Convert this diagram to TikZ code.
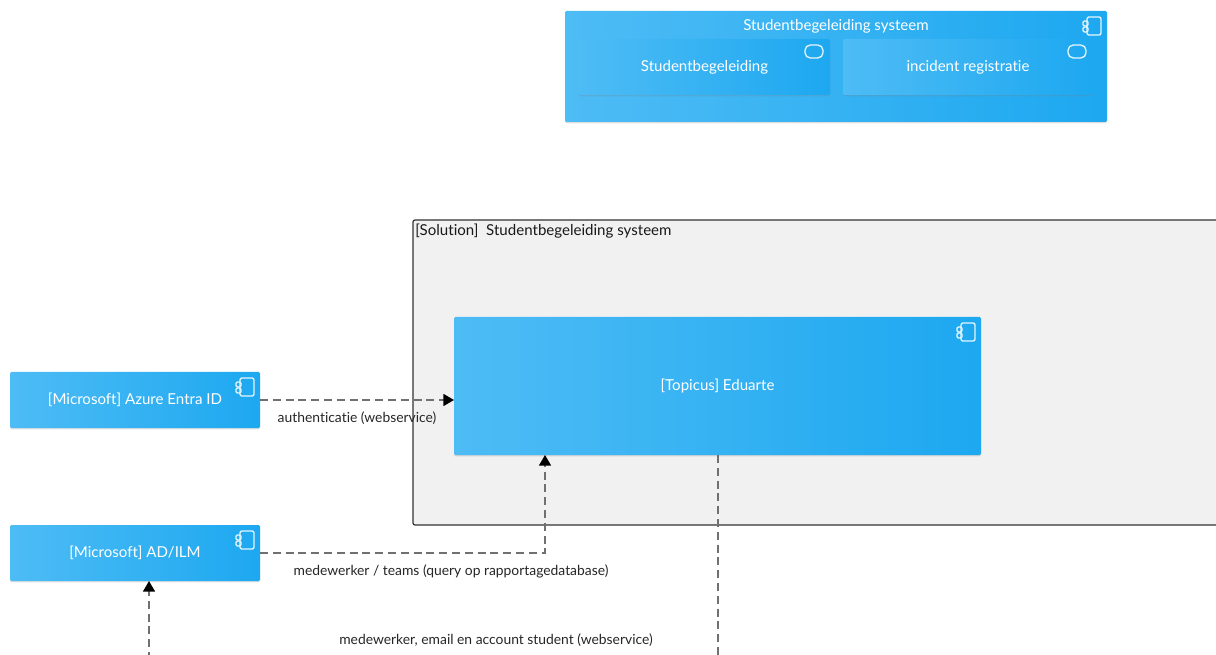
\documentclass[tikz,border=0pt]{standalone}
\usepackage{fontspec}
\setmainfont{Lato}[Ligatures=NoCommon]
\usepackage{xcolor}
\usetikzlibrary{arrows.meta,positioning,shadows}
\definecolor{dfskyleft}{RGB}{78,188,245}
\definecolor{dfskyright}{RGB}{29,168,240}
\definecolor{dfline}{RGB}{112,112,112}
\definecolor{dfpanel}{RGB}{241,241,241}
\definecolor{dfframe}{RGB}{51,51,51}
\tikzstyle{component} = [rectangle, rounded corners=1pt, inner sep=0pt, outer sep=0pt, left color=dfskyleft, right color=dfskyright, text=white, font=\fontsize{11.3}{13}\selectfont, drop shadow={shadow xshift=0pt, shadow yshift=-1pt, opacity=0.25}]
\tikzstyle{connector} = [line width=1.15pt, dash pattern=on 6pt off 3.6pt, color=dfline, {-{Triangle[length=8pt,width=9pt,color=black]}}]
\tikzstyle{flowlabel} = [inner sep=0pt, text=black!85, font=\fontsize{10.4}{12}\selectfont]
\tikzstyle{iconline} = [draw=white!85!dfskyleft, line width=1pt, rounded corners=1.5pt]
\tikzset{
  compicon/.pic={
    \draw[iconline] (-20,6) rectangle (-6,24);
    \draw[iconline, rounded corners=1pt] (-24,10) rectangle (-19,15);
    \draw[iconline, rounded corners=1pt] (-24,16) rectangle (-19,21);
  },
  roleicon/.pic={
    \draw[iconline, rounded corners=4pt] (-25,6) rectangle (-7,19);
  }
}

\begin{document}
\begin{tikzpicture}[x=0.75pt, y=-0.75pt]
\useasboundingbox (0,0) rectangle (1216,655);
\clip (0,0) rectangle (1216,655);

% top block
\node[component, minimum width=406.5pt, minimum height=83.25pt] (sbsys) at (836,66.5) {};
\node[anchor=north, inner sep=0pt, text=white, font=\fontsize{11.3}{13}\selectfont] (sbtitle) at (836,19) {Studentbegeleiding systeem};
\node[component, minimum width=188.25pt, minimum height=42pt] (sbrole) at (704.5,67) {Studentbegeleiding};
\node[component, minimum width=187.5pt, minimum height=42pt, right=9.75pt of sbrole] (increg) {incident registratie};
\pic at (sbsys.north east) {compicon};
\pic at (sbrole.north east) {roleicon};
\pic at (increg.north east) {roleicon};

% solution frame, runs off the page
\node[rectangle, rounded corners=1.5pt, draw=dfframe, fill=dfpanel, line width=0.9pt, minimum width=675pt, minimum height=228.75pt, outer sep=0pt, anchor=north west] (solution) at (413,220) {};
\node[anchor=north west, inner sep=0pt, text=black!90, font=\fontsize{11.3}{13}\selectfont] (soltitle) at (415,224) {[Solution]\ \ Studentbegeleiding systeem};

\node[component, minimum width=395.25pt, minimum height=103.5pt] (eduarte) at (717.5,386) {[Topicus] Eduarte};
\node[component, minimum width=187.5pt, minimum height=42pt] (azure) at (135,400) {[Microsoft] Azure Entra ID};
\node[component, minimum width=187.5pt, minimum height=42pt, below=72.75pt of azure] (adilm) {[Microsoft] AD/ILM};
\pic at (eduarte.north east) {compicon};
\pic at (azure.north east) {compicon};
\pic at (adilm.north east) {compicon};

\coordinate (adfoot) at (149,660);
\coordinate (edufoot) at (718,660);
\coordinate (adbend) at (545,553);

\draw[connector] (azure.east) -- (azure.east -| eduarte.west);
\draw[connector] (adilm.east) -- (adbend) -- (adbend |- eduarte.south);
\draw[connector] (adfoot) -- (adfoot |- adilm.south);
\draw[connector, -] (edufoot |- eduarte.south) -- (edufoot);

\node[flowlabel] (authlabel) at (357,418) {authenticatie (webservice)};
\node[flowlabel] (querylabel) at (451,571) {medewerker / teams (query op rapportagedatabase)};
\node[flowlabel] (accountlabel) at (496,640) {medewerker, email en account student (webservice)};
\end{tikzpicture}
\end{document}
